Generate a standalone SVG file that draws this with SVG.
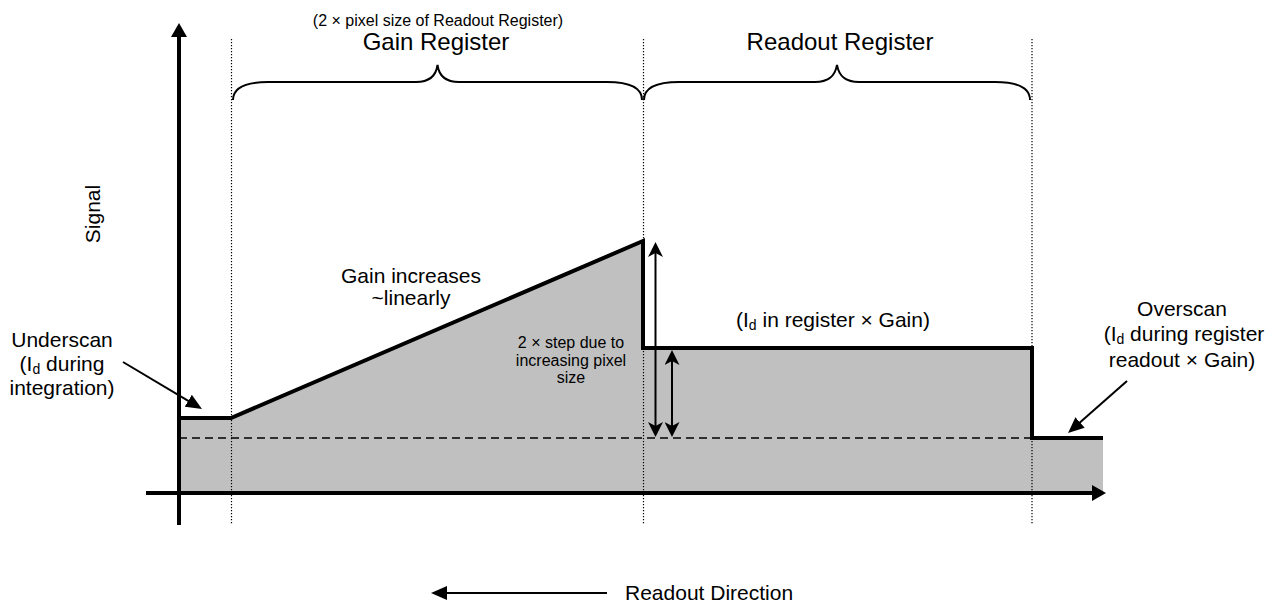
<svg xmlns="http://www.w3.org/2000/svg" width="1275" height="608" viewBox="0 0 1275 608">
<defs>
<style>
text{font-family:"Liberation Sans",Arial,sans-serif;fill:#000}
.t21{font-size:21px}
.t24{font-size:24px}
.t16{font-size:16px}
.mid{text-anchor:middle}
.axis{stroke:#000;stroke-width:4;fill:none}
.dot{stroke:#000;stroke-width:1.2;stroke-dasharray:1.3 1.7;fill:none}
.dash{stroke:#000;stroke-width:1.5;stroke-dasharray:8 5;fill:none}
.sig{stroke:#000;stroke-width:4;fill:none;stroke-linejoin:miter}
.brace{stroke:#000;stroke-width:2;fill:none}
.thin{stroke:#000;stroke-width:2;fill:none}
</style>
<marker id="axhead" viewBox="0 0 14 16" markerWidth="14" markerHeight="16" refX="1" refY="8" markerUnits="userSpaceOnUse" orient="auto"><path d="M0,0 L14,8 L0,16 z" fill="#000"/></marker>
<marker id="tri" viewBox="0 0 16 14" markerWidth="16" markerHeight="14" refX="1" refY="7" markerUnits="userSpaceOnUse" orient="auto"><path d="M0,0 L16,7 L0,14 z" fill="#000"/></marker>
<marker id="stealth" viewBox="0 0 15 15" markerWidth="15" markerHeight="15" refX="5" refY="7.5" markerUnits="userSpaceOnUse" orient="auto-start-reverse"><path d="M0,0 L15,7.5 L0,15 L4,7.5 z" fill="#000"/></marker>
</defs>
<rect width="1275" height="608" fill="#fff"/>
<g id="fill">
<polygon points="179,418 231,418 643,241 643,348 1032,348 1032,438 1103,438 1103,493 179,493" fill="#C0C0C0"/>
</g>
<g id="guides">
<line class="dash" x1="179" y1="438" x2="1032" y2="438"/>
<line class="dot" x1="231.5" y1="39" x2="231.5" y2="525"/>
<line class="dot" x1="643.5" y1="39" x2="643.5" y2="525"/>
<line class="dot" x1="1032" y1="39" x2="1032" y2="525"/>
</g>
<g id="signal">
<path class="sig" d="M179,418 L231,418 L643,241 L643,348 L1032,348 L1032,438 L1103,438"/>
</g>
<g id="axes">
<path class="axis" d="M179,525 L179,36" marker-end="url(#axhead)"/>
<path class="axis" d="M146,493 L1093,493" marker-end="url(#axhead)"/>
</g>
<g id="braces">
<path class="brace" d="M233,100 C233,88 245,82 268,82 L416,82 C430,82 436,76 437.5,65 C439,76 445,82 459,82 L607,82 C630,82 642,88 642,100"/>
<path class="brace" d="M644,100 C644,88 656,82 679,82 L815,82 C829,82 835,76 837,65 C839,76 845,82 859,82 L995,82 C1018,82 1030,88 1030,100"/>
</g>
<g id="connectors">
<path class="thin" d="M123,362 L189.1,401.3" marker-end="url(#tri)"/>
<path class="thin" d="M1127,381 L1079.3,423.1" marker-end="url(#tri)"/>
<path class="thin" d="M607,593 L446,593" stroke-width="1.5" marker-end="url(#tri)"/>
<path class="thin" d="M655.5,252 L655.5,427" marker-start="url(#stealth)" marker-end="url(#stealth)"/>
<path class="thin" d="M672,360 L672,427" marker-start="url(#stealth)" marker-end="url(#stealth)"/>
</g>
<g id="gain-register">
<text class="t16 mid" x="438" y="26">(2 × pixel size of Readout Register)</text>
<text class="t24 mid" x="436" y="50">Gain Register</text>
</g>
<g id="readout-register">
<text class="t24 mid" x="840" y="50">Readout Register</text>
</g>
<g id="signal-label">
<text class="t21 mid" transform="translate(100,214) rotate(-90)" x="0" y="0">Signal</text>
</g>
<g id="gain-increases">
<text class="t21 mid" x="411" y="283">Gain increases</text>
<text class="t21 mid" x="411" y="305">~linearly</text>
</g>
<g id="step-note">
<text class="t16 mid" x="571" y="348">2 × step due to</text>
<text class="t16 mid" x="571" y="366">increasing pixel</text>
<text class="t16 mid" x="571" y="383">size</text>
</g>
<g id="register-level">
<text class="t21 mid" x="833" y="327">(I<tspan font-size="14" dy="3">d</tspan><tspan dy="-3"> in register × Gain)</tspan></text>
</g>
<g id="underscan">
<text class="t21 mid" x="62" y="347">Underscan</text>
<text class="t21 mid" x="62" y="371">(I<tspan font-size="14" dy="3">d</tspan><tspan dy="-3"> during</tspan></text>
<text class="t21 mid" x="62" y="395">integration)</text>
</g>
<g id="overscan">
<text class="t21 mid" x="1182" y="316">Overscan</text>
<text class="t21 mid" x="1184" y="341">(I<tspan font-size="14" dy="3">d</tspan><tspan dy="-3"> during register</tspan></text>
<text class="t21 mid" x="1182" y="367">readout × Gain)</text>
</g>
<g id="readout-direction">
<text class="t21" x="625" y="600">Readout Direction</text>
</g>
</svg>
